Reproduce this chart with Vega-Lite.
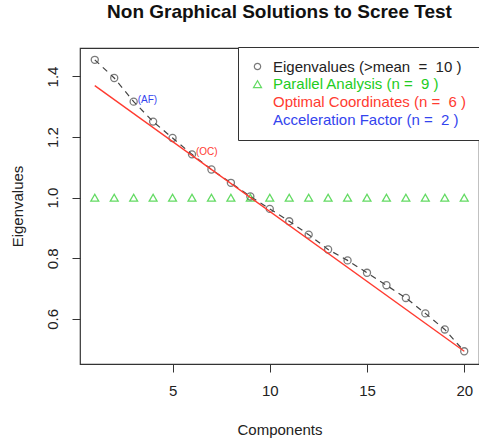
{
  "$schema": "https://vega.github.io/schema/vega-lite/v6.json",
  "width": 399,
  "height": 316,
  "autosize": {"type": "none"},
  "padding": {"left": 80, "top": 48, "right": 0, "bottom": 76},
  "background": "white",
  "title": {
    "text": "Non Graphical Solutions to Scree Test",
    "font": "Liberation Sans",
    "fontSize": 19,
    "fontWeight": "bold",
    "color": "#111",
    "baseline": "alphabetic",
    "frame": "group",
    "offset": 10
  },
  "config": {
    "view": {"stroke": "#333", "strokeWidth": 1.2},
    "font": "Liberation Sans",
    "axis": {
      "grid": false,
      "domain": false,
      "tickColor": "#333",
      "tickSize": 8,
      "labelFont": "Liberation Sans",
      "labelFontSize": 15,
      "labelColor": "#222",
      "titleFont": "Liberation Sans",
      "titleFontSize": 15,
      "titleFontWeight": "normal",
      "titleColor": "#222"
    },
    "legend": {
      "orient": "none",
      "legendX": 158,
      "legendY": -1,
      "strokeColor": "#333",
      "fillColor": "white",
      "padding": 12,
      "rowPadding": 1.7,
      "labelFont": "Liberation Sans",
      "labelFontSize": 15,
      "labelOffset": 8,
      "labelLimit": 400,
      "symbolStrokeWidth": 1.2,
      "symbolFillColor": "transparent"
    }
  },
  "resolve": {"scale": {"color": "independent"}},
  "datasets": {
    "scree": [
      {"component": 1, "eigenvalue": 1.455, "parallel": 1.0},
      {"component": 2, "eigenvalue": 1.395, "parallel": 1.0},
      {"component": 3, "eigenvalue": 1.317, "parallel": 1.0},
      {"component": 4, "eigenvalue": 1.251, "parallel": 1.0},
      {"component": 5, "eigenvalue": 1.197, "parallel": 1.0},
      {"component": 6, "eigenvalue": 1.143, "parallel": 1.0},
      {"component": 7, "eigenvalue": 1.093, "parallel": 1.0},
      {"component": 8, "eigenvalue": 1.049, "parallel": 1.0},
      {"component": 9, "eigenvalue": 1.004, "parallel": 1.0},
      {"component": 10, "eigenvalue": 0.963, "parallel": 1.0},
      {"component": 11, "eigenvalue": 0.922, "parallel": 1.0},
      {"component": 12, "eigenvalue": 0.878, "parallel": 1.0},
      {"component": 13, "eigenvalue": 0.829, "parallel": 1.0},
      {"component": 14, "eigenvalue": 0.793, "parallel": 1.0},
      {"component": 15, "eigenvalue": 0.752, "parallel": 1.0},
      {"component": 16, "eigenvalue": 0.711, "parallel": 1.0},
      {"component": 17, "eigenvalue": 0.669, "parallel": 1.0},
      {"component": 18, "eigenvalue": 0.618, "parallel": 1.0},
      {"component": 19, "eigenvalue": 0.565, "parallel": 1.0},
      {"component": 20, "eigenvalue": 0.493, "parallel": 1.0}
    ],
    "oc": [
      {"component": 1, "value": 1.37},
      {"component": 20, "value": 0.493}
    ],
    "notes": [
      {"component": 3, "value": 1.317, "label": "(AF)", "kind": "af"},
      {"component": 6, "value": 1.143, "label": "(OC)", "kind": "oc"}
    ]
  },
  "layer": [
    {
      "data": {"name": "scree"},
      "mark": {"type": "line", "color": "#444", "strokeDash": [6, 5], "strokeWidth": 1.2},
      "encoding": {
        "x": {
          "field": "component", "type": "quantitative",
          "scale": {"domain": [0.24, 20.76], "nice": false, "zero": false},
          "axis": {"values": [5, 10, 15, 20], "title": "Components", "labelPadding": 11, "titlePadding": 24}
        },
        "y": {
          "field": "eigenvalue", "type": "quantitative",
          "scale": {"domain": [0.451, 1.494], "nice": false, "zero": false},
          "axis": {"values": [0.6, 0.8, 1.0, 1.2, 1.4], "format": ".1f", "title": "Eigenvalues",
                   "labelAngle": -90, "labelAlign": "center", "labelBaseline": "bottom", "labelPadding": 12, "titlePadding": 20}
        }
      }
    },
    {
      "data": {"name": "scree"},
      "transform": [{"fold": ["eigenvalue", "parallel"], "as": ["series", "value"]}],
      "mark": {"type": "point", "filled": false, "strokeWidth": 1.3},
      "encoding": {
        "x": {"field": "component", "type": "quantitative"},
        "y": {"field": "value", "type": "quantitative"},
        "color": {
          "field": "series", "type": "nominal",
          "scale": {"domain": ["eigenvalue", "parallel", "oc", "af"], "range": ["#444444", "#22cc22", "#ff3b30", "#3344ee"]},
          "legend": {
            "title": null,
            "labelExpr": "datum.value == 'eigenvalue' ? 'Eigenvalues (>mean\u00a0 =\u00a0 10 )' : datum.value == 'parallel' ? 'Parallel Analysis (n =\u00a0 9 )' : datum.value == 'oc' ? 'Optimal Coordinates (n =\u00a0 6 )' : 'Acceleration Factor (n =\u00a0 2 )'",
            "labelColor": {"expr": "datum.value == 'eigenvalue' ? '#222222' : datum.value == 'parallel' ? '#22cc22' : datum.value == 'oc' ? '#ff3b30' : '#3344ee'"},
            "symbolType": {"expr": "datum.value == 'parallel' ? 'triangle-up' : 'circle'"},
            "symbolSize": {"expr": "datum.value == 'eigenvalue' ? 40 : datum.value == 'parallel' ? 65 : 0"},
            "symbolFillColor": "transparent",
            "symbolStrokeColor": {"expr": "datum.value == 'eigenvalue' ? '#444444' : datum.value == 'parallel' ? '#22cc22' : 'transparent'"}
          }
        },
        "shape": {
          "field": "series", "type": "nominal",
          "scale": {"domain": ["eigenvalue", "parallel", "oc", "af"], "range": ["circle", "triangle-up", "circle", "circle"]},
          "legend": null
        },
        "size": {
          "field": "series", "type": "nominal",
          "scale": {"domain": ["eigenvalue", "parallel", "oc", "af"], "range": [50, 85, 0, 0]},
          "legend": null
        }
      }
    },
    {
      "data": {"name": "oc"},
      "mark": {"type": "line", "color": "#ff3b30", "strokeWidth": 1.4},
      "encoding": {
        "x": {"field": "component", "type": "quantitative"},
        "y": {"field": "value", "type": "quantitative"}
      }
    },
    {
      "data": {"name": "notes"},
      "mark": {"type": "text", "align": "left", "dx": 4, "dy": -2, "fontSize": 10, "font": "Liberation Sans"},
      "encoding": {
        "x": {"field": "component", "type": "quantitative"},
        "y": {"field": "value", "type": "quantitative"},
        "text": {"field": "label"},
        "color": {"field": "kind", "type": "nominal", "scale": {"domain": ["oc", "af"], "range": ["#ff3b30", "#3344ee"]}, "legend": null}
      }
    }
  ]
}
